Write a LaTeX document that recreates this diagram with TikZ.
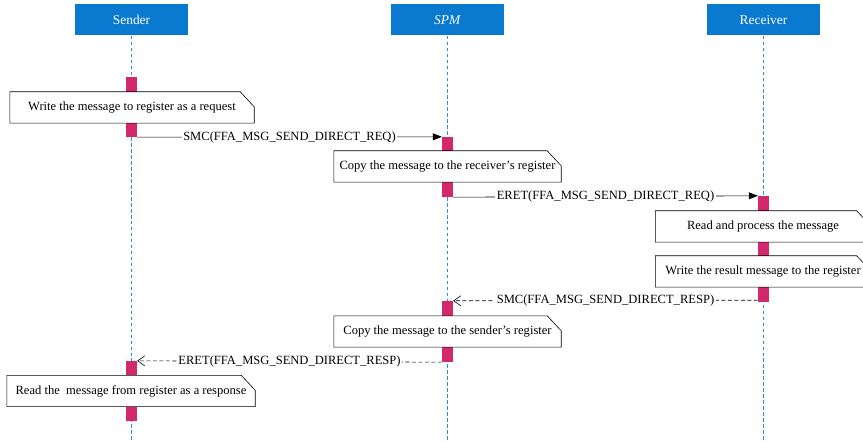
\documentclass[tikz,border=0pt]{standalone}
\usepackage{fontspec}
\setmainfont{Liberation Serif}
\usetikzlibrary{arrows.meta}
\definecolor{headblue}{RGB}{10,122,208}
\definecolor{lifeblue}{RGB}{45,140,220}
\definecolor{barred}{RGB}{212,40,108}

\begin{document}
\begin{tikzpicture}[x=1bp,y=-1bp,
    head/.style={rectangle, fill=headblue, text=white, minimum width=113bp, minimum height=31bp, inner sep=0pt, font=\fontsize{13.5}{15}\selectfont},
    life/.style={lifeblue, line width=0.5pt, dash pattern=on 3.5pt off 2.5pt},
    bar/.style={rectangle, fill=barred, minimum width=11bp, inner sep=0pt},
    notebox/.style={rectangle, fill=white, minimum height=31bp, inner sep=0pt, font=\fontsize{12.6}{14}\selectfont},
    msg/.style={midway, fill=white, inner sep=1.5pt, font=\fontsize{12.6}{14}\selectfont},
    call/.style={-{Triangle[length=9bp,width=7bp]}, line width=0.6pt},
    reply/.style={-{Straight Barb[length=7bp,width=10bp]}, line width=0.6pt, dash pattern=on 4pt off 2.5pt}]

    \useasboundingbox (0,0) rectangle (863,442);

    % participants and lifelines
    \foreach \name/\x/\txt in {send/131.5/Sender, spm/447.5/\textit{SPM}, recv/763.5/Receiver} {
        \node[head] (\name) at (\x,20) {\txt};
        \draw[life] (\name.south) -- (\x,442);
    }

    % activations
    \node[bar, minimum height=60bp] (sbar1) at (131.5,107) {};
    \node[bar, minimum height=60bp] (pbar1) at (447.5,167) {};
    \node[bar, minimum height=106bp] (rbar) at (763.5,249) {};
    \node[bar, minimum height=61bp] (pbar2) at (447.5,331.5) {};
    \node[bar, minimum height=60bp] (sbar2) at (131.5,391) {};

    % notes
    \node[notebox, minimum width=244bp] (note1) at (132,107.5) {Write the message to register as a request};
    \node[notebox, minimum width=227bp] (note2) at (447.5,166.5) {Copy the message to the receiver’s register};
    \node[notebox, minimum width=215bp] (note3) at (763,226.5) {Read and process the message};
    \node[notebox, minimum width=215bp] (note4) at (763,271.5) {Write the result message to the register};
    \node[notebox, minimum width=227bp] (note5) at (447.5,331.5) {Copy the message to the sender’s register};
    \node[notebox, minimum width=248bp] (note6) at (131,391) {Read the \ message from register as a response};

    \foreach \n in {note1,note2,note3,note4,note5,note6} {
        \draw[line width=0.6pt] (\n.south west) -- (\n.north west) -- ([xshift=-14bp]\n.north east)
            -- ([yshift=-15bp]\n.north east) -- (\n.south east) -- cycle;
    }

    % messages
    \draw[call] (sbar1.south east) -- (pbar1.north west) node[msg] {SMC(FFA\_MSG\_SEND\_DIRECT\_REQ)};
    \draw[call] (pbar1.south east) -- (rbar.north west) node[msg] {ERET(FFA\_MSG\_SEND\_DIRECT\_REQ)};
    \draw[reply] ([yshift=2bp]rbar.south west) -- (pbar2.north east) node[msg] {SMC(FFA\_MSG\_SEND\_DIRECT\_RESP)};
    \draw[reply] (pbar2.south west) -- (sbar2.north east) node[msg] {ERET(FFA\_MSG\_SEND\_DIRECT\_RESP)};
\end{tikzpicture}
\end{document}
